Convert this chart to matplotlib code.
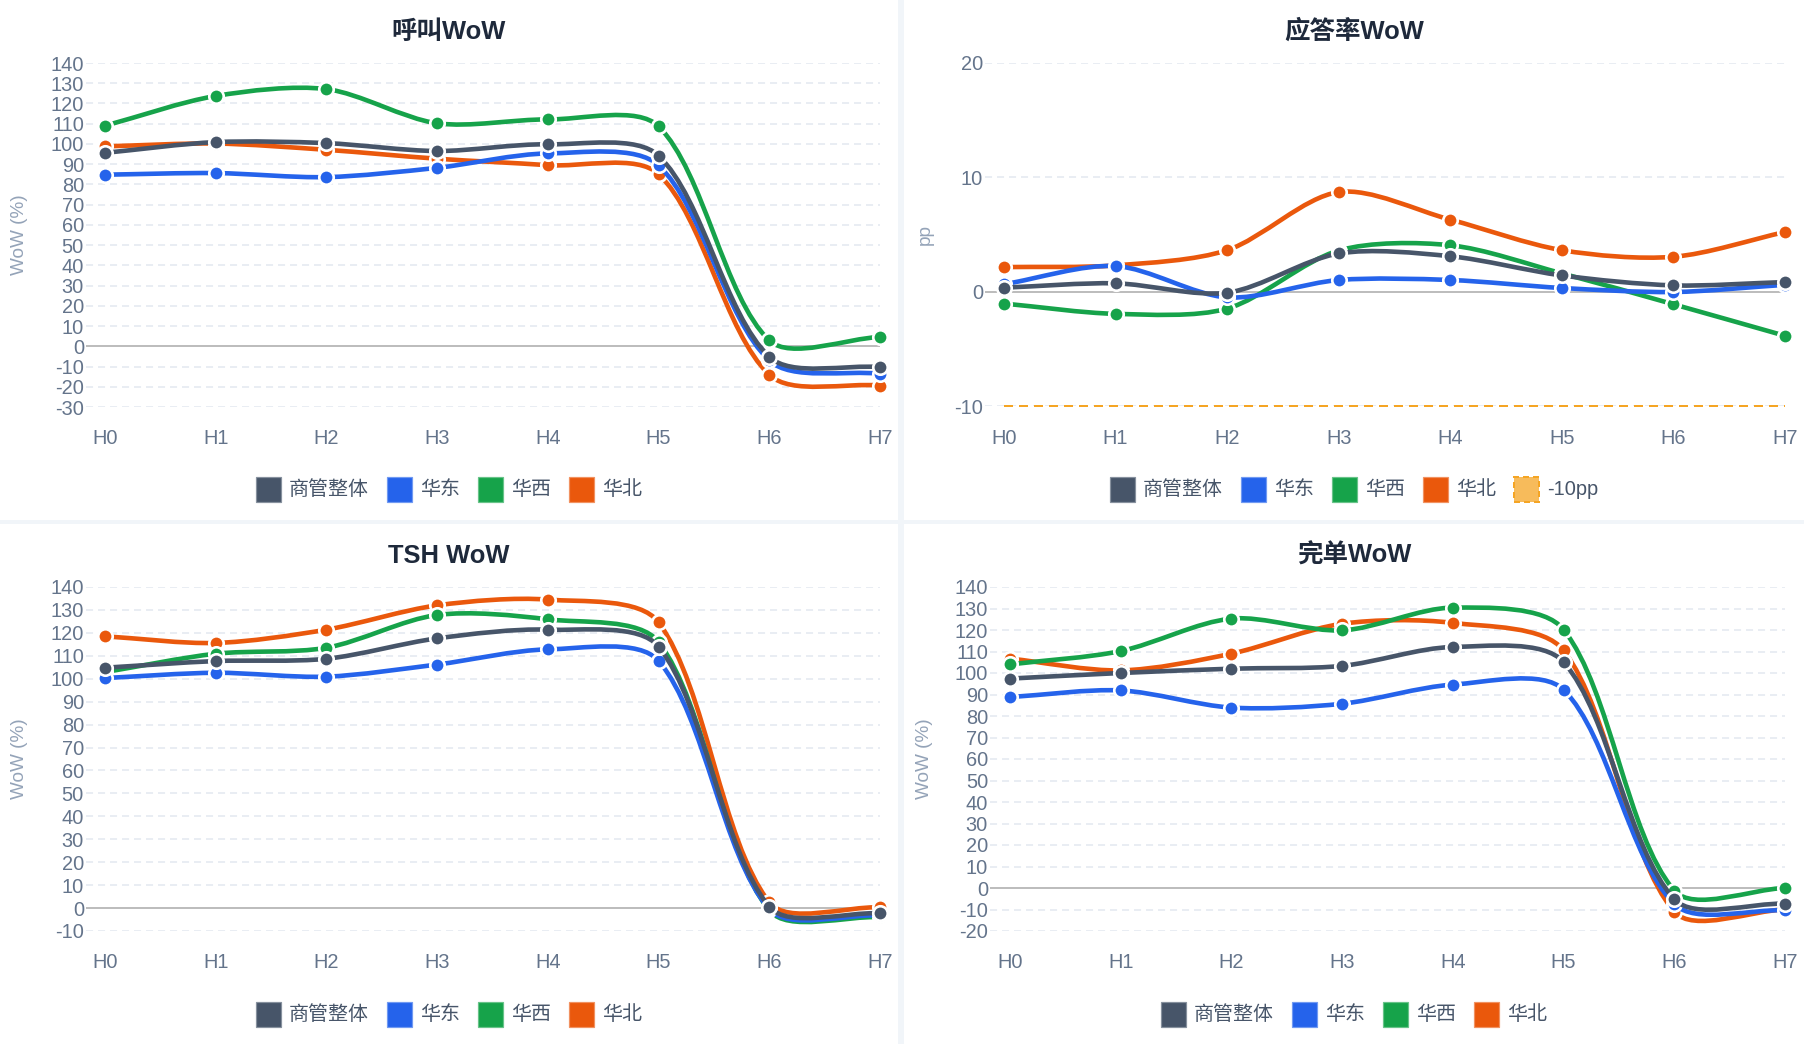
import matplotlib
matplotlib.use('Agg')
import matplotlib.pyplot as plt
from matplotlib.path import Path
from matplotlib.patches import PathPatch, Rectangle
import matplotlib.transforms as mtransforms
import numpy as np

plt.rcParams['font.family'] = ['Liberation Sans', 'Noto Sans CJK SC', 'DejaVu Sans']

# ---------------- data ----------------
hours = ['H0', 'H1', 'H2', 'H3', 'H4', 'H5', 'H6', 'H7']
series_names = ['商管整体', '华东', '华西', '华北']
series_colors = ['#475569', '#2563eb', '#16a34a', '#ea580c']

# 呼叫WoW (%)
call_overall = [95.6, 100.9, 100.4, 96.5, 99.8, 94.2, -5.2, -10.3]
call_east = [84.8, 85.6, 83.6, 88.2, 95.3, 89.4, -7.0, -13.6]
call_west = [109.0, 123.7, 127.1, 110.2, 112.1, 108.7, 2.9, 4.6]
call_north = [98.8, 100.2, 97.1, 92.7, 89.5, 85.1, -14.1, -19.4]

# 应答率WoW (pp)
ans_overall = [0.35, 0.73, -0.09, 3.34, 3.10, 1.42, 0.55, 0.84]
ans_east = [0.65, 2.24, -0.50, 1.02, 1.02, 0.32, -0.03, 0.60]
ans_west = [-1.04, -1.94, -1.48, 3.60, 4.06, 1.60, -1.10, -3.86]
ans_north = [2.15, 2.30, 3.63, 8.71, 6.30, 3.63, 3.05, 5.22]
ans_threshold = [-10, -10, -10, -10, -10, -10, -10, -10]
threshold_label = '-10pp'
threshold_color = '#f5a524'

# TSH WoW (%)
tsh_overall = [104.8, 107.7, 108.7, 117.6, 121.4, 114.0, 0.6, -2.3]
tsh_east = [100.3, 102.6, 100.9, 106.2, 112.8, 107.8, -0.5, -3.2]
tsh_west = [102.9, 110.9, 113.5, 127.8, 125.9, 116.0, -1.0, -4.0]
tsh_north = [118.5, 115.6, 121.4, 132.0, 134.5, 124.6, 2.5, 0.3]

# 完单WoW (%)
done_overall = [97.4, 100.0, 102.0, 103.3, 112.1, 105.1, -5.2, -7.3]
done_east = [88.8, 91.9, 83.9, 85.7, 94.6, 92.2, -7.5, -10.4]
done_west = [104.0, 110.2, 125.3, 119.8, 130.4, 120.2, -1.2, 0.0]
done_north = [106.7, 101.2, 109.0, 122.9, 123.3, 110.5, -11.0, -10.0]

titles = ['呼叫WoW', '应答率WoW', 'TSH WoW', '完单WoW']
ylabels = ['WoW (%)', 'pp', 'WoW (%)', 'WoW (%)']
yticks_list = [list(range(-30, 141, 10)), [-10, 0, 10, 20],
               list(range(-10, 141, 10)), list(range(-20, 141, 10))]

panel_series = [
    [call_overall, call_east, call_west, call_north],
    [ans_overall, ans_east, ans_west, ans_north],
    [tsh_overall, tsh_east, tsh_west, tsh_north],
    [done_overall, done_east, done_west, done_north],
]

# ---------------- layout (pixels) ----------------
W, H = 1804, 1044
PT = 0.72  # points per pixel at dpi 100

layouts = [
    dict(px0=0, px1=898, py0=0, py1=520, gx0=86, xh0=105, xh7=880, ytop=63, ybot=407,
         title_y=32, xlab_y=439, leg_y=489.5, ylab_x=20),
    dict(px0=904, px1=1804, py0=0, py1=520, gx0=985, xh0=1004, xh7=1785, ytop=63, ybot=406,
         title_y=32, xlab_y=439, leg_y=489.5, ylab_x=925),
    dict(px0=0, px1=898, py0=524, py1=1044, gx0=86, xh0=105, xh7=880, ytop=587, ybot=931,
         title_y=556, xlab_y=963, leg_y=1014, ylab_x=20),
    dict(px0=904, px1=1804, py0=524, py1=1044, gx0=990, xh0=1010, xh7=1785, ytop=587, ybot=931,
         title_y=556, xlab_y=963, leg_y=1014, ylab_x=925),
]

fig = plt.figure(figsize=(W / 100, H / 100), dpi=100, facecolor='#f1f5f9')


def fx(x):
    return x / W


def fy(y):
    return 1 - y / H


def smooth_path(ax, xs, ys, tension=0.3):
    pts = ax.transData.transform(np.column_stack([xs, ys]))
    n = len(pts)
    prev_cp, next_cp = [], []
    for i in range(n):
        cur = pts[i]
        prv = pts[i - 1] if i > 0 else cur
        nxt = pts[i + 1] if i < n - 1 else cur
        d01 = np.hypot(*(cur - prv))
        d12 = np.hypot(*(nxt - cur))
        tot = d01 + d12
        s01 = d01 / tot if tot else 0.0
        s12 = d12 / tot if tot else 0.0
        prev_cp.append(cur - tension * s01 * (nxt - prv))
        next_cp.append(cur + tension * s12 * (nxt - prv))
    verts = [pts[0]]
    codes = [Path.MOVETO]
    for i in range(n - 1):
        verts += [next_cp[i], prev_cp[i + 1], pts[i + 1]]
        codes += [Path.CURVE4] * 3
    inv = ax.transData.inverted()
    verts = inv.transform(np.array(verts))
    return Path(verts, codes)


renderer = fig.canvas.get_renderer()

for k in range(4):
    L = layouts[k]
    # panel background
    fig.patches.append(Rectangle((fx(L['px0']), fy(L['py1'])),
                                 (L['px1'] - L['px0']) / W, (L['py1'] - L['py0']) / H,
                                 transform=fig.transFigure, facecolor='white',
                                 edgecolor='none', zorder=-10))
    ax = fig.add_axes([fx(L['gx0']), fy(L['ybot']), (L['xh7'] - L['gx0']) / W,
                       (L['ybot'] - L['ytop']) / H])
    ax.set_zorder(1)
    ax.set_facecolor('none')
    for s in ax.spines.values():
        s.set_visible(False)
    step = (L['xh7'] - L['xh0']) / 7.0
    ax.set_xlim(-(L['xh0'] - L['gx0']) / step, 7)
    yt = yticks_list[k]
    ax.set_ylim(yt[0], yt[-1])
    ax.set_yticks(yt)
    ax.set_yticklabels([str(v) for v in yt])
    ax.tick_params(axis='y', length=0, pad=2 * PT, labelsize=20 * PT, labelcolor='#64748b')
    ax.set_xticks([])
    # grid
    for v in yt:
        if v == 0:
            ax.axhline(v, color='#bdbdbd', lw=2 * PT, zorder=1)
        else:
            ax.axhline(v, color='#e2e8f0', lw=1.5 * PT, ls=(0, (4.7, 3.3)), zorder=1)
    # x labels
    trans = mtransforms.blended_transform_factory(ax.transData, fig.transFigure)
    for i, hname in enumerate(hours):
        ax.text(i, fy(L['xlab_y']), hname, transform=trans, ha='center', va='center',
                fontsize=20 * PT, color='#64748b')
    xs = np.arange(len(hours))
    series = panel_series[k]
    legend_items = [(series_names[j], series_colors[j], 'solid') for j in range(4)]
    if k == 1:
        ax.plot(xs, ans_threshold, color=threshold_color, lw=2 * PT, ls=(0, (4.5, 3)),
                zorder=2, clip_on=False)
        legend_items.append((threshold_label, threshold_color, 'dashed'))
    for j in range(3, -1, -1):
        vals = series[j]
        p = smooth_path(ax, xs, vals)
        ax.add_patch(PathPatch(p, fill=False, edgecolor=series_colors[j], lw=4.6 * PT,
                               capstyle='round', joinstyle='round',
                               zorder=10 - 2 * j, clip_on=False))
        ax.plot(xs, vals, 'o', ms=10.4, mfc=series_colors[j], mec='white', mew=1.9,
                zorder=11 - 2 * j, clip_on=False)
    # title
    cx = (L['px0'] + L['px1']) / 2
    fig.text(fx(cx), fy(L['title_y']), titles[k], ha='center', va='center',
             fontsize=25.5 * PT, fontweight='bold', color='#1e293b')
    # y axis title
    fig.text(fx(L['ylab_x']), fy((L['ytop'] + L['ybot']) / 2), ylabels[k], rotation=90,
             ha='center', va='center', fontsize=19 * PT, color='#94a3b8')
    # legend
    box, gap_t, gap_i = 25, 8, 18
    texts = []
    widths = []
    for name, col, style in legend_items:
        t = fig.text(0, fy(L['leg_y']), name, ha='left', va='center', fontsize=20 * PT,
                     color='#475569')
        texts.append(t)
        widths.append(t.get_window_extent(renderer).width)
    total = sum(box + gap_t + w for w in widths) + gap_i * (len(widths) - 1)
    x = cx - total / 2
    for (name, col, style), t, w in zip(legend_items, texts, widths):
        if style == 'solid':
            rc = matplotlib.colors.to_rgb(col)
            ec = tuple(c + (1 - c) * 0.35 for c in rc)
            fig.patches.append(Rectangle((fx(x), fy(L['leg_y'] + box / 2)), box / W, box / H,
                                         transform=fig.transFigure, facecolor=col,
                                         edgecolor=ec, lw=1.2 * PT, zorder=3))
        else:
            fig.patches.append(Rectangle((fx(x), fy(L['leg_y'] + box / 2)), box / W, box / H,
                                         transform=fig.transFigure,
                                         facecolor=matplotlib.colors.to_rgba(col, 0.75),
                                         edgecolor='none', zorder=3))
            fig.patches.append(Rectangle((fx(x), fy(L['leg_y'] + box / 2)), box / W, box / H,
                                         transform=fig.transFigure, facecolor='none',
                                         edgecolor=col, lw=2 * PT, ls=(0, (3, 2)), zorder=4))
        t.set_x(fx(x + box + gap_t))
        x += box + gap_t + w + gap_i

fig.savefig('out.png', dpi=100, facecolor=fig.get_facecolor())
